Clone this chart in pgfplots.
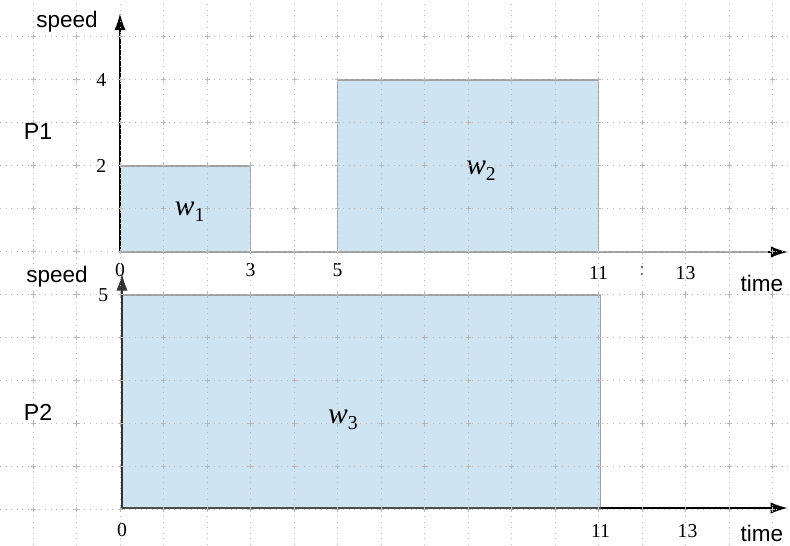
\documentclass[border=0pt]{standalone}
\usepackage{fontspec}
\setmainfont{Liberation Serif}
\newfontfamily\arial{Liberation Sans}
\usepackage{pgfplots}
\pgfplotsset{compat=1.18}
\usetikzlibrary{arrows.meta}

\definecolor{barblue}{RGB}{207,228,242}
\definecolor{baredge}{RGB}{160,160,160}
\definecolor{gridgray}{RGB}{185,185,185}

\tikzset{
  tl/.style={font=\fontsize{14}{14}\selectfont},
  wl/.style={font=\fontsize{21}{21}\selectfont},
  head/.style={-{Latex[length=12pt,width=8pt]}},
}
\newcommand{\wlab}[1]{\textit{w}\raisebox{-0.45ex}{\fontsize{14}{14}\selectfont #1}}
\pgfplotsset{
  procaxis/.style={
    x=1.0875cm, y=1.075cm,
    anchor=south west,
    axis lines=none,
    clip=false,
    xmin=0, ymin=0,
  },
}

\begin{document}
\begin{tikzpicture}
\path[use as bounding box] (0,0) rectangle (19.75cm,13.625cm);

% top panel: P1
\begin{axis}[procaxis, at={(3cm,7.325cm)}, xmax=15.35, ymax=5.55]
\addplot[ybar interval, fill=barblue, draw=baredge, line width=1.2pt]
  coordinates {(0,2) (3,0) (5,4) (11,4)};
\draw[baredge, line width=1.2pt] (axis cs:11,0) -- (axis cs:15.0,0);
\draw[head, black, line width=0.9pt] (axis cs:14.9,0) -- (axis cs:15.35,0);
\draw[head, black, line width=0.9pt] (axis cs:0,0) -- (axis cs:0,5.55);
\node[tl] at (axis cs:0,-0.42) {0};
\node[tl] at (axis cs:3,-0.42) {3};
\node[tl] at (axis cs:5,-0.42) {5};
\node[tl] at (axis cs:11,-0.48) {11};
\node[tl, black!60] at (axis cs:12,-0.45) {:};
\node[tl] at (axis cs:13,-0.48) {13};
\node[tl, anchor=east] at (axis cs:-0.2,2) {2};
\node[tl, anchor=east] at (axis cs:-0.2,4) {4};
\node[wl] at (axis cs:1.6,0.93) {\wlab{1}};
\node[wl] at (axis cs:8.3,1.88) {\wlab{2}};
\end{axis}

% bottom panel: P2
\begin{axis}[procaxis, at={(3.05cm,0.925cm)}, y=1.065cm, xmax=15.3, ymax=5.5]
\addplot[ybar interval, fill=barblue, draw=baredge, line width=1.2pt]
  coordinates {(0,5) (11,5)};
\draw[black!70, line width=1.2pt] (axis cs:0,0) -- (axis cs:11,0);
\draw[head, black, line width=0.9pt] (axis cs:11,0) -- (axis cs:15.3,0);
\draw[head, black!80, line width=0.9pt] (axis cs:0,0) -- (axis cs:0,5.5);
\node[tl] at (axis cs:0,-0.52) {0};
\node[tl] at (axis cs:11,-0.55) {11};
\node[tl] at (axis cs:13,-0.55) {13};
\node[tl, anchor=east] at (axis cs:-0.2,5) {5};
\node[wl] at (axis cs:5.08,2.07) {\wlab{3}};
\end{axis}

\begin{scope}[x=0.025cm, y=0.025cm]
% dotted background grid with small crosses (reference pixel units)
\foreach \gx in {33.5,77,...,790}
  \draw[gridgray, line width=0.7pt, dash pattern=on 0.7pt off 3.3pt] (\gx,0) -- (\gx,545);
\foreach \gy in {36,79,...,545}
  \draw[gridgray, line width=0.7pt, dash pattern=on 0.7pt off 3.3pt] (0,\gy) -- (790,\gy);
\foreach \gx in {33.5,77,...,790}
  \foreach \gy in {36,79,...,545}
    \draw[gridgray, line width=0.7pt] (\gx-2.5,\gy) -- (\gx+2.5,\gy) (\gx,\gy-2.5) -- (\gx,\gy+2.5);

% panel labels
\node[font=\arial\fontsize{16}{16}\selectfont] at (67,523) {speed};
\node[font=\arial\fontsize{16.5}{16.5}\selectfont] at (38,414) {P1};
\node[font=\arial\fontsize{16}{16}\selectfont] at (762,262) {time};
\node[font=\arial\fontsize{16}{16}\selectfont] at (57,268) {speed};
\node[font=\arial\fontsize{16.5}{16.5}\selectfont] at (38,133) {P2};
\node[font=\arial\fontsize{16}{16}\selectfont] at (762,12) {time};
\end{scope}
\end{tikzpicture}
\end{document}
